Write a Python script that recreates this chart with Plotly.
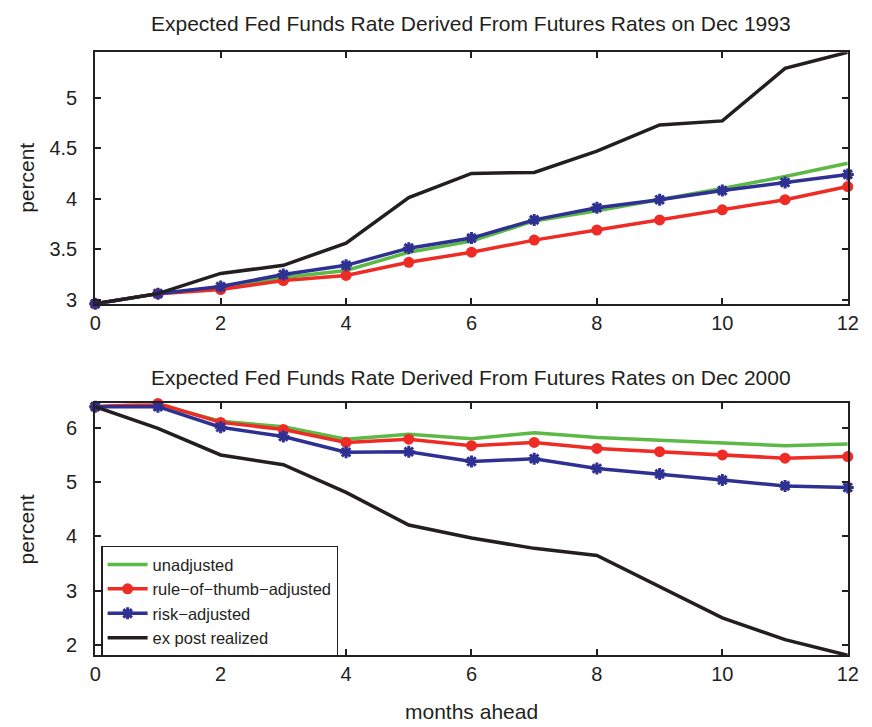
import plotly.graph_objects as go

months = list(range(13))

# Dec 1993
top_unadj = [2.96, 3.06, 3.12, 3.22, 3.29, 3.47, 3.58, 3.78, 3.88, 3.99, 4.10, 4.22, 4.35]
top_rule = [2.96, 3.06, 3.10, 3.19, 3.24, 3.37, 3.47, 3.59, 3.69, 3.79, 3.89, 3.99, 4.12]
top_risk = [2.96, 3.06, 3.13, 3.25, 3.34, 3.51, 3.61, 3.79, 3.91, 3.99, 4.08, 4.16, 4.24]
top_real = [2.96, 3.06, 3.26, 3.34, 3.56, 4.01, 4.25, 4.26, 4.47, 4.73, 4.77, 5.29, 5.45]

# Dec 2000
bot_unadj = [6.39, 6.43, 6.12, 6.02, 5.79, 5.88, 5.80, 5.91, 5.82, 5.77, 5.73, 5.67, 5.70]
bot_rule = [6.39, 6.45, 6.10, 5.97, 5.73, 5.79, 5.67, 5.73, 5.62, 5.56, 5.50, 5.44, 5.47]
bot_risk = [6.39, 6.39, 6.01, 5.84, 5.55, 5.56, 5.38, 5.43, 5.25, 5.15, 5.04, 4.93, 4.90]
bot_real = [6.39, 5.99, 5.50, 5.32, 4.81, 4.21, 3.97, 3.78, 3.65, 3.08, 2.50, 2.10, 1.81]

names = ["unadjusted", "rule\u2212of\u2212thumb\u2212adjusted", "risk\u2212adjusted", "ex post realized"]
colors = ["#5cb946", "#ee2b24", "#2e3192", "#231f20"]

titles = ["Expected Fed Funds Rate Derived From Futures Rates on Dec 1993",
          "Expected Fed Funds Rate Derived From Futures Rates on Dec 2000"]
top_yticks = [3, 3.5, 4, 4.5, 5]
top_ylabels = ["3", "3.5", "4", "4.5", "5"]
bot_yticks = [2, 3, 4, 5, 6]
xticks = [0, 2, 4, 6, 8, 10, 12]

W, H = 872, 727
font = "Liberation Sans, Arial, sans-serif"
fc = "#231f20"

fig = go.Figure()

def add_series(data, xa, ya, show):
    for i, (vals, nm, col) in enumerate(zip(data, names, colors)):
        if i == 1:
            marker = dict(symbol="circle", size=11, color=col)
            mode = "lines+markers"
        elif i == 2:
            marker = dict(symbol="asterisk-open", size=10, color=col,
                          line=dict(color=col, width=3))
            mode = "lines+markers"
        else:
            marker = None
            mode = "lines"
        fig.add_trace(go.Scatter(
            x=months, y=vals, name=nm, mode=mode,
            line=dict(color=col, width=3.5), marker=marker,
            xaxis=xa, yaxis=ya, showlegend=show, cliponaxis=False))

add_series([top_unadj, top_rule, top_risk, top_real], "x", "y", False)
add_series([bot_unadj, bot_rule, bot_risk, bot_real], "x2", "y2", True)

xdom = [91 / W, 858.5 / W]
axis_common = dict(showline=True, linecolor=fc, linewidth=2, mirror="ticks",
                   ticks="inside", ticklen=6, tickwidth=1.5, tickcolor=fc,
                   showgrid=False, zeroline=False,
                   tickfont=dict(family=font, size=20, color=fc))

fig.update_layout(
    width=W, height=H, margin=dict(l=0, r=0, t=0, b=0),
    plot_bgcolor="white", paper_bgcolor="white",
    font=dict(family=font, color=fc),
    xaxis=dict(domain=xdom, range=[0, 12], tickvals=xticks, anchor="y",
               ticklabelstandoff=0, **axis_common),
    yaxis=dict(domain=[1 - 306.7 / H, 1 - 52.7 / H], range=[2.96, 5.45],
               tickvals=top_yticks, ticktext=top_ylabels, anchor="x",
               ticklabelstandoff=12, **axis_common),
    xaxis2=dict(domain=xdom, range=[0, 12], tickvals=xticks, anchor="y2",
                ticklabelstandoff=0, **axis_common),
    yaxis2=dict(domain=[1 - 661.7 / H, 1 - 407.3 / H], range=[1.81, 6.45],
                tickvals=bot_yticks, anchor="x2", ticklabelstandoff=12, **axis_common),
    legend=dict(x=97 / W, y=1 - 551 / H, xanchor="left", yanchor="top",
                bordercolor=fc, borderwidth=1.5, bgcolor="white",
                font=dict(family=font, size=16.5, color=fc),
                tracegroupgap=0, itemwidth=40),
    showlegend=True,
)

xc = (xdom[0] + xdom[1]) / 2
ann = [
    dict(text=titles[0], x=xc, y=1 - 24 / H),
    dict(text=titles[1], x=xc, y=1 - 381 / H),
    dict(text="months ahead", x=xc, y=1 - 718 / H),
]
for a in ann:
    fig.add_annotation(xref="paper", yref="paper", showarrow=False,
                       xanchor="center", yanchor="middle",
                       font=dict(family=font, size=21, color=fc), **a)
for yc in [180, 535]:
    fig.add_annotation(text="percent", xref="paper", yref="paper", x=21 / W, y=1 - yc / H,
                       showarrow=False, textangle=-90, xanchor="center", yanchor="middle",
                       font=dict(family=font, size=21, color=fc))

fig.write_html("out.html")
